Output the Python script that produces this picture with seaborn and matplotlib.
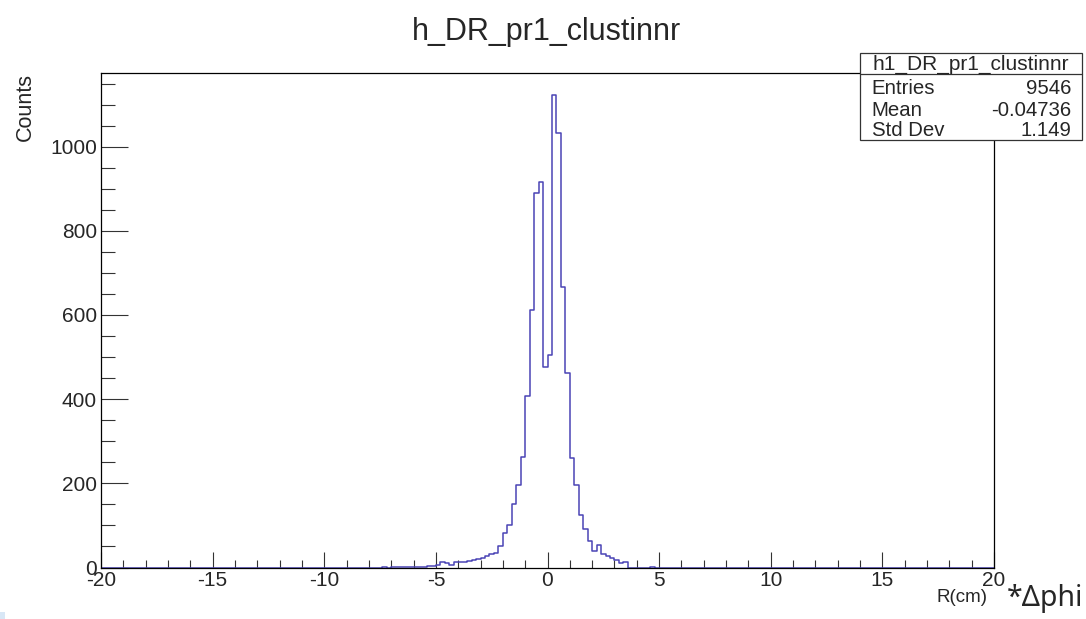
"""
ROOT 风格直方图复现: h_DR_pr1_clustinnr
"""

import numpy as np
import pandas as pd
import matplotlib
matplotlib.use('Agg')
import matplotlib.pyplot as plt
from matplotlib.patches import Rectangle
from matplotlib.ticker import MultipleLocator
import seaborn as sns

# 样式设置 (set_style 之后再设字体)
sns.set_style("ticks")
plt.rcParams['font.family'] = ['Liberation Sans', 'DejaVu Sans']
plt.rcParams['axes.unicode_minus'] = False

# ---------------- 数据 ----------------
x_low, x_high = -20, 20
bin_width = 0.2
first_bin_low = -7.6          # 下面 counts 的第一个 bin 的下边界
counts = [
    0, 1, 0, 1, 1, 1, 1, 1, 1, 1,          # -7.6 .. -5.6
    2, 3, 4, 7, 14, 10, 7, 12, 13, 13,     # -5.6 .. -3.6
    16, 18, 21, 22, 27, 31, 35, 50, 82, 102,   # -3.6 .. -1.6
    150, 195, 263, 407, 612, 890, 915, 477,    # -1.6 .. 0.0
    505, 1122, 1032, 667, 461, 259, 195, 125, 92, 62,  # 0.0 .. 2.0
    40, 54, 33, 27, 22, 18, 11, 14,        # 2.0 .. 3.6
    0, 0, 0, 0, 0, 1,                      # 3.6 .. 4.8
]
y_max = 1175

title = 'h_DR_pr1_clustinnr'
x_label = 'R(cm)'
x_label_extra = '*Δphi'
y_label = 'Counts'
stats_name = 'h1_DR_pr1_clustinnr'
stats_labels = ['Entries', 'Mean', 'Std Dev']
stats_values = ['9546', '-0.04736', '1.149']

x_ticks = [-20, -15, -10, -5, 0, 5, 10, 15, 20]
y_ticks = [0, 200, 400, 600, 800, 1000]

line_color = '#4a44b5'

# bin 中心
counts = np.array(counts, dtype=float)
centers = first_bin_low + bin_width * (np.arange(len(counts)) + 0.5)
df = pd.DataFrame({'x': centers, 'n': counts})

# ---------------- 绘图 ----------------
fig = plt.figure(figsize=(10.86, 6.19), dpi=100)
ax = fig.add_axes([101 / 1086, 1 - 567.5 / 619, 893 / 1086, (567.5 - 73) / 619])

sns.histplot(data=df, x='x', weights='n', binwidth=bin_width, binrange=(x_low, x_high),
             element='step', fill=False, color=line_color, linewidth=1.1, ax=ax)

ax.set_xlim(x_low, x_high)
ax.set_ylim(0, y_max)
ax.set_xlabel('')
ax.set_ylabel('')

# 坐标轴框和刻度 (ROOT 风格: 刻度向内)
for s in ax.spines.values():
    s.set_visible(True)
    s.set_color('black')
    s.set_linewidth(0.9)
    s.set_zorder(5)

ax.set_xticks(x_ticks)
ax.set_yticks(y_ticks)
ax.xaxis.set_minor_locator(MultipleLocator(1))
ax.yaxis.set_minor_locator(MultipleLocator(50))
ax.tick_params(axis='x', which='major', direction='in', length=11.3, width=0.8,
               color='#333333', labelsize=15, pad=2.5)
ax.tick_params(axis='x', which='minor', direction='in', length=5.5, width=0.8, color='#333333')
ax.tick_params(axis='y', which='major', direction='in', length=19.5, width=0.8,
               color='#333333', labelsize=15, pad=3)
ax.tick_params(axis='y', which='minor', direction='in', length=10.3, width=0.8, color='#333333')

# 标题和轴标签
fig.text(547 / 1086, 1 - 40 / 619, title, ha='center', va='baseline', fontsize=22)
fig.text(25 / 1086, 1 - 73 / 619, y_label, rotation=90, ha='center', va='top', fontsize=15.5)
fig.text(987 / 1086, 1 - 597 / 619, x_label, ha='right', va='center', fontsize=13.5)
fig.text(1007 / 1086, 1 - 606 / 619, x_label_extra, ha='left', va='baseline',
         fontsize=20.5, family=['Noto Sans', 'DejaVu Sans'])

# 统计信息框
bx0, bx1 = 860 / 1086, 1081.7 / 1086
by_top, by_bot, by_sep = 1 - 53.3 / 619, 1 - 140 / 619, 1 - 74.3 / 619
fig.add_artist(Rectangle((bx0, by_bot), bx1 - bx0, by_top - by_bot, transform=fig.transFigure,
                         facecolor='white', edgecolor='#333333', linewidth=0.9, zorder=10))
fig.add_artist(plt.Line2D([bx0, bx1], [by_sep, by_sep], transform=fig.transFigure,
                          color='#333333', linewidth=0.9, zorder=11))
fig.text((bx0 + bx1) / 2, 1 - 64 / 619, stats_name, ha='center', va='center',
         fontsize=15, zorder=12)
row_y = [88, 110, 131]
for lab, val, ry in zip(stats_labels, stats_values, row_y):
    yy = 1 - ry / 619
    fig.text(871.7 / 1086, yy, lab, ha='left', va='center', fontsize=14.7, zorder=12)
    fig.text(1071.7 / 1086, yy, val, ha='right', va='center', fontsize=14.7, zorder=12)

# 左下角浅蓝色小块
fig.add_artist(Rectangle((0, 0), 5 / 1086, 7 / 619, transform=fig.transFigure,
                         facecolor='#d8e7f6', edgecolor='none'))

plt.savefig('out.png', dpi=100)
plt.close()
